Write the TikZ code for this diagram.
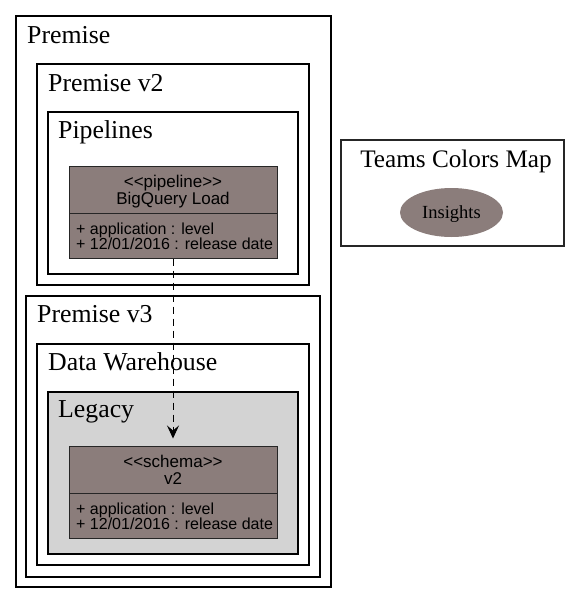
\documentclass[tikz,border=0pt]{standalone}
\usepackage{fontspec}
\setmainfont{Liberation Serif}
\newfontfamily\sansf{Liberation Sans}
\usetikzlibrary{arrows.meta,shapes.geometric}
\definecolor{classfill}{HTML}{8B7D7B}
\definecolor{legacyfill}{HTML}{D3D3D3}
\tikzset{
  container/.style={draw=black,line width=2pt},
  clabel/.style={anchor=base west,inner sep=0pt,font=\fontsize{25.8}{30}\selectfont},
  classbox/.style={draw=black!85,line width=1pt,fill=classfill,minimum width=208pt,minimum height=92pt,inner sep=0pt},
  ctext/.style={anchor=base,inner sep=0pt,font=\sansf\fontsize{17}{20}\selectfont},
  atext/.style={anchor=base west,inner sep=0pt,font=\sansf\fontsize{16}{19}\selectfont},
  dep/.style={line width=1pt,dash pattern=on 7pt off 5pt,-{Stealth[inset=5pt,length=13pt,width=12pt]}},
}
\begin{document}
\begin{tikzpicture}[x=1pt,y=-1pt]
\useasboundingbox (0,0) rectangle (580,603);
% containers
\draw[container] (16,16) rectangle (331,587);
\node[clabel] (lpremise) at (27,43) {Premise};
\draw[container] (37,64) rectangle (309,285);
\node[clabel] (lpv2) at (48,91) {Premise v2};
\draw[container] (48,112) rectangle (298,274);
\node[clabel] (lpipe) at (58,138) {Pipelines};
\draw[container] (26,296) rectangle (320,577);
\node[clabel] (lpv3) at (37,322) {Premise v3};
\draw[container] (37,344) rectangle (309,565);
\node[clabel] (ldw) at (48,370) {Data Warehouse};
\draw[container,fill=legacyfill] (48,392) rectangle (298,554);
\node[clabel] (lleg) at (58,417) {Legacy};
% pipeline class
\node[classbox] (pl) at (173,212) {};
\draw[draw=black!85,line width=1pt] (69,213) -- (277,213);
\node[ctext] (pl1) at (173,187) {<<pipeline>>};
\node[ctext] (pl2) at (173,204) {BigQuery Load};
\node[atext] (pl3) at (76,234) {+ application : level};
\node[atext] (pl4) at (76,249) {+ 12/01/2016 : release date};
% schema class
\node[classbox] (sc) at (173,492) {};
\draw[draw=black!85,line width=1pt] (69,493) -- (277,493);
\node[ctext] (sc1) at (173,467) {<<schema>>};
\node[ctext] (sc2) at (173,484) {v2};
\node[atext] (sc3) at (76,514) {+ application : level};
\node[atext] (sc4) at (76,529) {+ 12/01/2016 : release date};
% dependency
\draw[dep,shorten >=7pt] (pl.south) -- (sc.north);
% teams colors map
\draw[draw=black!85,line width=1.3pt] (341,140) rectangle (564,246);
\node[anchor=base,inner sep=0pt,font=\fontsize{25.2}{30}\selectfont] (tcm) at (456,167) {Teams Colors Map};
\node[ellipse,fill=classfill,minimum width=103pt,minimum height=49pt,inner sep=0pt] (ins) at (451.5,212.5) {};
\node[anchor=base,inner sep=0pt,font=\fontsize{18.5}{21}\selectfont] (inst) at (451.5,218) {Insights};
\end{tikzpicture}
\end{document}
